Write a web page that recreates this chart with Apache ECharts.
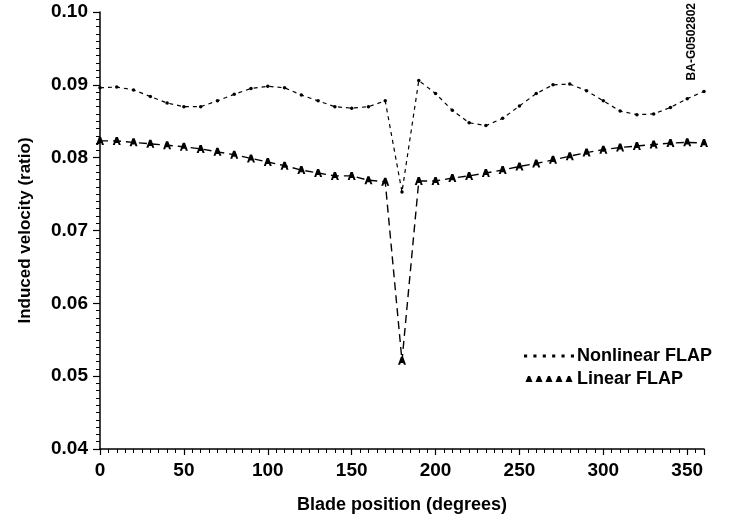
<!DOCTYPE html>
<html>
<head>
<meta charset="utf-8">
<script src="https://cdn.jsdelivr.net/npm/echarts@6/dist/echarts.min.js"></script>
<style>
  html, body { margin: 0; padding: 0; background: #fff; }
  #chart { width: 729px; height: 522px; }
</style>
</head>
<body>
<div id="chart"></div>
<script>
const bladeDeg = [0, 10, 20, 30, 40, 50, 60, 70, 80, 90, 100, 110, 120, 130, 140, 150, 160, 170, 180,
  190, 200, 210, 220, 230, 240, 250, 260, 270, 280, 290, 300, 310, 320, 330, 340, 350, 360];

const nonlinearFlap = [0.0896, 0.0897, 0.0893, 0.0884, 0.0875, 0.0870, 0.0870, 0.0878, 0.0887, 0.0895,
  0.0898, 0.0896, 0.0886, 0.0878, 0.0870, 0.0868, 0.0870, 0.0878, 0.0753,
  0.0906, 0.0888, 0.0865, 0.0848, 0.0844, 0.0854, 0.0871, 0.0888, 0.0900, 0.0901,
  0.0892, 0.0878, 0.0864, 0.0859, 0.0860, 0.0869, 0.0881, 0.0891];

const linearFlap = [0.0823, 0.0823, 0.0821, 0.0819, 0.0817, 0.0815, 0.0812, 0.0808, 0.0804, 0.0799,
  0.0794, 0.0789, 0.0783, 0.0779, 0.0775, 0.0775, 0.0769, 0.0767, 0.0521,
  0.0768, 0.0768, 0.0772, 0.0775, 0.0779, 0.0783, 0.0788, 0.0792, 0.0797, 0.0802,
  0.0807, 0.0811, 0.0814, 0.0816, 0.0818, 0.0820, 0.0821, 0.0820];

const seriesNames = ["Nonlinear FLAP", "Linear FLAP"];

const font = "'Liberation Sans', Arial, Helvetica, sans-serif";
const ink = "#000";

// solid "A" glyph used as marker for the linear case
const aMark = "path://M0,10L3.6,0L6.4,0L10,10L7.4,10L6.6,7.6L3.4,7.6L2.6,10Z";
const dotsIcon = "path://M0,0h3v3h-3zM9,0h3v3h-3zM18,0h3v3h-3zM27,0h3v3h-3zM36,0h3v3h-3zM45,0h3v3h-3z";
const asIcon = "path://M0,6L2.5,0L4.5,0L7,6ZM10,6L12.5,0L14.5,0L17,6ZM20,6L22.5,0L24.5,0L27,6ZM30,6L32.5,0L34.5,0L37,6ZM40,6L42.5,0L44.5,0L47,6Z";

const chart = echarts.init(document.getElementById("chart"));

chart.setOption({
  backgroundColor: "#fff",
  animation: false,
  grid: { left: 100, right: 25, top: 12, bottom: 73 },
  legend: {
    orient: "vertical",
    left: 519,
    top: 342,
    itemGap: 5,
    itemWidth: 50,
    itemHeight: 6,
    data: [
      { name: seriesNames[0], icon: dotsIcon },
      { name: seriesNames[1], icon: asIcon }
    ],
    textStyle: { color: ink, fontFamily: font, fontWeight: "bold", fontSize: 18, padding: [0, 0, 0, -2] }
  },
  graphic: [{
    type: "text",
    left: 686,
    top: 3,
    rotation: Math.PI / 2,
    style: { text: "BA-G0502802", fill: ink, font: "bold 12px " + font }
  }],
  xAxis: {
    type: "value",
    min: 0,
    max: 360,
    interval: 50,
    name: "Blade position (degrees)",
    nameLocation: "middle",
    nameGap: 47,
    nameTextStyle: { color: ink, fontFamily: font, fontWeight: "bold", fontSize: 18 },
    axisLine: { show: true, lineStyle: { color: ink, width: 1.5 } },
    axisTick: { show: true, length: 6, lineStyle: { color: ink, width: 1.2 } },
    minorTick: { show: true, splitNumber: 10, length: 4, lineStyle: { color: ink, width: 1 } },
    splitLine: { show: false },
    axisLabel: {
      color: ink, fontFamily: font, fontWeight: "bold", fontSize: 19, margin: 12,
      formatter: (v) => (v === 360 ? "" : String(v))
    }
  },
  yAxis: {
    type: "value",
    min: 0.04,
    max: 0.10,
    interval: 0.01,
    name: "Induced velocity (ratio)",
    nameLocation: "middle",
    nameGap: 66,
    nameTextStyle: { color: ink, fontFamily: font, fontWeight: "bold", fontSize: 17 },
    axisLine: { show: true, lineStyle: { color: ink, width: 1.5 } },
    axisTick: { show: true, length: 7, lineStyle: { color: ink, width: 1.2 } },
    minorTick: { show: true, splitNumber: 10, length: 4, lineStyle: { color: ink, width: 1 } },
    splitLine: { show: false },
    axisLabel: {
      color: ink, fontFamily: font, fontWeight: "bold", fontSize: 19, margin: 12,
      formatter: (v) => v.toFixed(2)
    }
  },
  series: [
    {
      name: seriesNames[0],
      type: "line",
      data: bladeDeg.map((d, i) => [d, nonlinearFlap[i]]),
      symbol: "circle",
      symbolSize: 3.5,
      itemStyle: { color: ink },
      lineStyle: { color: ink, width: 1.2, type: [4, 4] }
    },
    {
      name: seriesNames[1],
      type: "line",
      data: bladeDeg.map((d, i) => [d, linearFlap[i]]),
      symbol: aMark,
      symbolSize: [8, 8],
      itemStyle: { color: ink },
      lineStyle: { color: ink, width: 1.4, type: [8, 5] }
    }
  ]
});
</script>
</body>
</html>
